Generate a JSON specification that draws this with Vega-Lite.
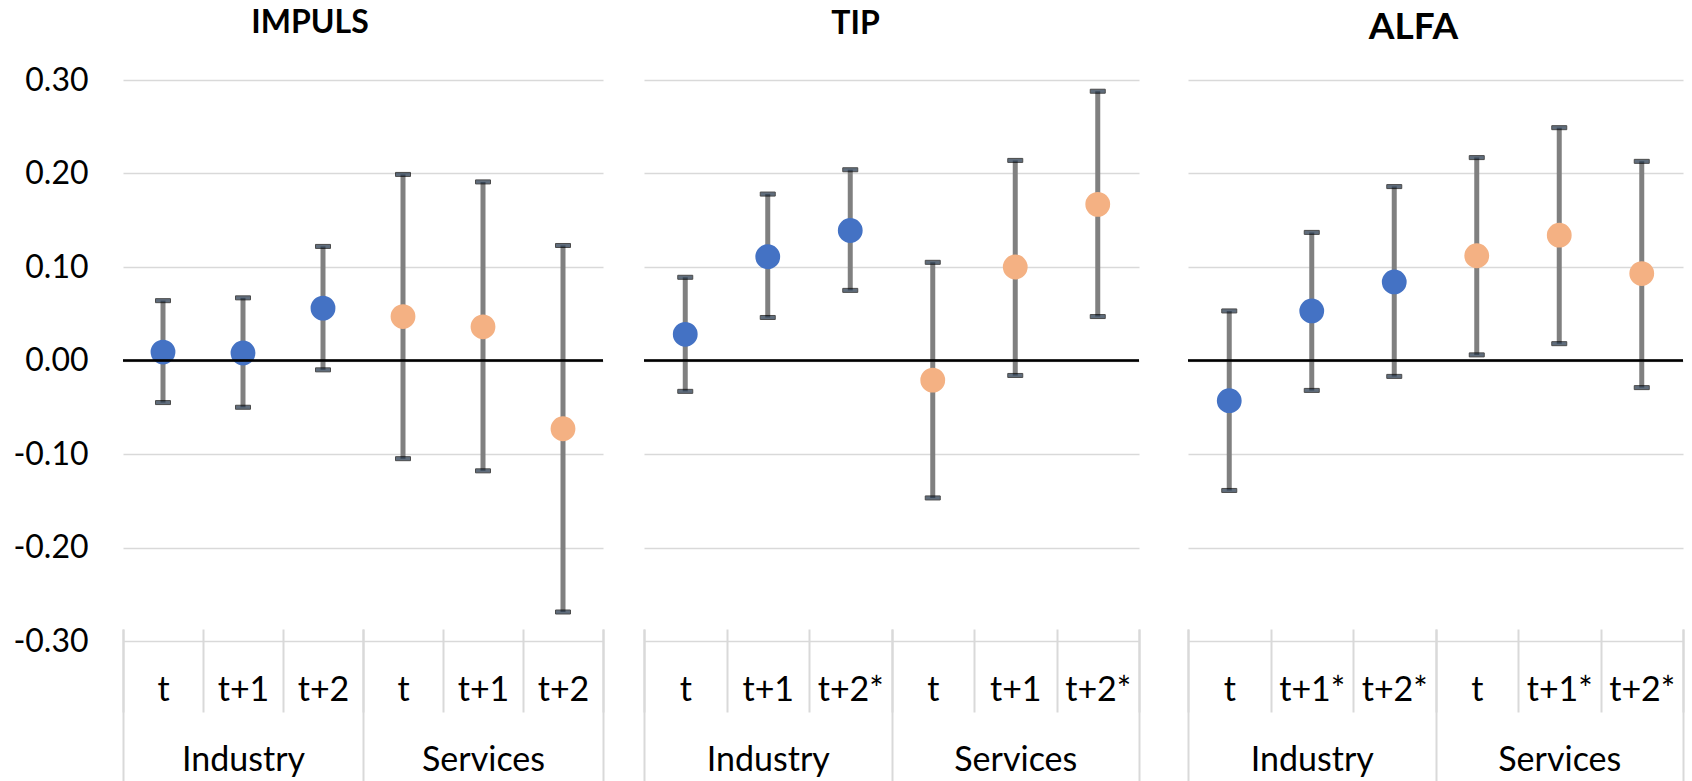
{
  "$schema": "https://vega.github.io/schema/vega-lite/v6.json",
  "background": "white",
  "padding": {"left": 12, "top": 7, "right": 5, "bottom": 0},
  "config": {"view": {"stroke": null}, "font": "Lato"},
  "data": {"values": [
    {"panel": "IMPULS", "group": "Industry", "key": "Industry|t", "est": 0.009, "lo": -0.045, "hi": 0.064},
    {"panel": "IMPULS", "group": "Industry", "key": "Industry|t+1", "est": 0.008, "lo": -0.050, "hi": 0.067},
    {"panel": "IMPULS", "group": "Industry", "key": "Industry|t+2", "est": 0.056, "lo": -0.010, "hi": 0.122},
    {"panel": "IMPULS", "group": "Services", "key": "Services|t", "est": 0.047, "lo": -0.105, "hi": 0.199},
    {"panel": "IMPULS", "group": "Services", "key": "Services|t+1", "est": 0.036, "lo": -0.118, "hi": 0.191},
    {"panel": "IMPULS", "group": "Services", "key": "Services|t+2", "est": -0.073, "lo": -0.269, "hi": 0.123},
    {"panel": "TIP", "group": "Industry", "key": "Industry|t", "est": 0.028, "lo": -0.033, "hi": 0.089},
    {"panel": "TIP", "group": "Industry", "key": "Industry|t+1", "est": 0.111, "lo": 0.046, "hi": 0.178},
    {"panel": "TIP", "group": "Industry", "key": "Industry|t+2*", "est": 0.139, "lo": 0.075, "hi": 0.204},
    {"panel": "TIP", "group": "Services", "key": "Services|t", "est": -0.021, "lo": -0.147, "hi": 0.105},
    {"panel": "TIP", "group": "Services", "key": "Services|t+1", "est": 0.100, "lo": -0.016, "hi": 0.214},
    {"panel": "TIP", "group": "Services", "key": "Services|t+2*", "est": 0.167, "lo": 0.047, "hi": 0.288},
    {"panel": "ALFA", "group": "Industry", "key": "Industry|t", "est": -0.043, "lo": -0.139, "hi": 0.053},
    {"panel": "ALFA", "group": "Industry", "key": "Industry|t+1*", "est": 0.053, "lo": -0.032, "hi": 0.137},
    {"panel": "ALFA", "group": "Industry", "key": "Industry|t+2*", "est": 0.084, "lo": -0.017, "hi": 0.186},
    {"panel": "ALFA", "group": "Services", "key": "Services|t", "est": 0.112, "lo": 0.006, "hi": 0.217},
    {"panel": "ALFA", "group": "Services", "key": "Services|t+1*", "est": 0.134, "lo": 0.018, "hi": 0.249},
    {"panel": "ALFA", "group": "Services", "key": "Services|t+2*", "est": 0.093, "lo": -0.029, "hi": 0.213}
  ]},
  "spacing": 41,
  "bounds": "flush",
  "hconcat": [
    {
      "width": 480, "height": 561,
      "title": {"text": "IMPULS", "font": "Lato", "fontSize": 32, "fontWeight": "bold", "color": "black", "anchor": "middle", "frame": "group", "dx": -53, "offset": -1, "baseline": "alphabetic"},
      "transform": [{"filter": "datum.panel === 'IMPULS'"}],
      "layer": [
        {
          "encoding": {
            "x": {"field": "key", "type": "nominal", "sort": null, "scale": {"paddingInner": 0, "paddingOuter": 0},
              "axis": {"orient": "bottom", "title": null, "domain": false, "grid": false, "offset": -12, "tickBand": "extent", "tickSize": 83, "tickColor": "#d9d9d9", "tickWidth": 2, "labelExpr": "split(datum.value, '|')[1]", "labelAngle": 0, "labelBaseline": "middle", "labelPadding": -22, "labelFont": "Lato", "labelFontSize": 34, "labelColor": "black"}}
          },
          "layer": [
            {"mark": {"type": "rule", "color": "#808080", "strokeWidth": 5},
             "encoding": {
               "y": {"field": "lo", "type": "quantitative", "scale": {"domain": [-0.3, 0.3], "nice": false, "zero": false},
                 "axis": {"orient": "left", "title": null, "values": [-0.3, -0.2, -0.1, 0, 0.1, 0.2, 0.3], "labelExpr": "(datum.value < -0.001 ? '-' : '') + format(abs(datum.value), '.2f')", "ticks": false, "domain": false, "grid": true, "gridColor": "#d9d9d9", "gridWidth": 1.5, "labelPadding": 35, "labelFont": "Lato", "labelFontSize": 32, "labelColor": "black"}},
               "y2": {"field": "hi"}}},
            {"mark": {"type": "tick", "orient": "horizontal", "fill": "#1d3046", "stroke": "black", "strokeWidth": 1, "thickness": 4, "size": 15},
             "encoding": {"y": {"field": "lo", "type": "quantitative"}}},
            {"mark": {"type": "tick", "orient": "horizontal", "fill": "#1d3046", "stroke": "black", "strokeWidth": 1, "thickness": 4, "size": 15},
             "encoding": {"y": {"field": "hi", "type": "quantitative"}}},
            {"mark": {"type": "circle", "size": 616, "opacity": 1},
             "encoding": {"y": {"field": "est", "type": "quantitative"},
               "color": {"field": "group", "type": "nominal", "scale": {"domain": ["Industry", "Services"], "range": ["#4472C4", "#F4B183"]}, "legend": null}}}
          ]
        },
        {"mark": {"type": "point", "opacity": 0},
         "encoding": {
           "x": {"field": "group", "type": "nominal", "sort": null, "scale": {"paddingInner": 0, "paddingOuter": 0},
             "axis": {"orient": "bottom", "title": null, "domain": false, "grid": false, "offset": -12, "tickBand": "extent", "tickSize": 152, "tickColor": "#d9d9d9", "tickWidth": 2, "labelAngle": 0, "labelBaseline": "middle", "labelPadding": -21, "labelFont": "Lato", "labelFontSize": 34, "labelColor": "black"}},
           "y": {"datum": 0}}},
        {"mark": {"type": "rule", "color": "black", "strokeWidth": 1.5}, "encoding": {"y": {"datum": 0}}}
      ],
      "resolve": {"scale": {"x": "independent"}, "axis": {"x": "independent"}}
    },
    {
      "spacing": 49,
      "bounds": "flush",
      "hconcat": [
        {
          "width": 495, "height": 561,
          "title": {"text": "TIP", "font": "Lato", "fontSize": 32, "fontWeight": "bold", "color": "black", "anchor": "middle", "frame": "group", "dx": -36, "offset": 14, "baseline": "alphabetic"},
          "transform": [{"filter": "datum.panel === 'TIP'"}],
          "layer": [
            {
              "encoding": {
                "x": {"field": "key", "type": "nominal", "sort": null, "scale": {"paddingInner": 0, "paddingOuter": 0},
                  "axis": {"orient": "bottom", "title": null, "domain": false, "grid": false, "offset": -12, "tickBand": "extent", "tickSize": 83, "tickColor": "#d9d9d9", "tickWidth": 2, "labelExpr": "split(datum.value, '|')[1]", "labelAngle": 0, "labelBaseline": "middle", "labelPadding": -22, "labelFont": "Lato", "labelFontSize": 34, "labelColor": "black"}}
              },
              "layer": [
                {"mark": {"type": "rule", "color": "#808080", "strokeWidth": 5},
                 "encoding": {
                   "y": {"field": "lo", "type": "quantitative", "scale": {"domain": [-0.3, 0.3], "nice": false, "zero": false},
                     "axis": {"orient": "left", "title": null, "values": [-0.3, -0.2, -0.1, 0, 0.1, 0.2, 0.3], "labels": false, "ticks": false, "domain": false, "grid": true, "gridColor": "#d9d9d9", "gridWidth": 1.5}},
                   "y2": {"field": "hi"}}},
                {"mark": {"type": "tick", "orient": "horizontal", "fill": "#1d3046", "stroke": "black", "strokeWidth": 1, "thickness": 4, "size": 15},
                 "encoding": {"y": {"field": "lo", "type": "quantitative"}}},
                {"mark": {"type": "tick", "orient": "horizontal", "fill": "#1d3046", "stroke": "black", "strokeWidth": 1, "thickness": 4, "size": 15},
                 "encoding": {"y": {"field": "hi", "type": "quantitative"}}},
                {"mark": {"type": "circle", "size": 616, "opacity": 1},
                 "encoding": {"y": {"field": "est", "type": "quantitative"},
                   "color": {"field": "group", "type": "nominal", "scale": {"domain": ["Industry", "Services"], "range": ["#4472C4", "#F4B183"]}, "legend": null}}}
              ]
            },
            {"mark": {"type": "point", "opacity": 0},
             "encoding": {
               "x": {"field": "group", "type": "nominal", "sort": null, "scale": {"paddingInner": 0, "paddingOuter": 0},
                 "axis": {"orient": "bottom", "title": null, "domain": false, "grid": false, "offset": -12, "tickBand": "extent", "tickSize": 152, "tickColor": "#d9d9d9", "tickWidth": 2, "labelAngle": 0, "labelBaseline": "middle", "labelPadding": -21, "labelFont": "Lato", "labelFontSize": 34, "labelColor": "black"}},
               "y": {"datum": 0}}},
            {"mark": {"type": "rule", "color": "black", "strokeWidth": 1.5}, "encoding": {"y": {"datum": 0}}}
          ],
          "resolve": {"scale": {"x": "independent"}, "axis": {"x": "independent"}}
        },
        {
          "width": 495, "height": 561,
          "title": {"text": "ALFA", "font": "Lato", "fontSize": 37, "fontWeight": "bold", "color": "black", "anchor": "middle", "frame": "group", "dx": -22, "offset": 4, "baseline": "alphabetic"},
          "transform": [{"filter": "datum.panel === 'ALFA'"}],
          "layer": [
            {
              "encoding": {
                "x": {"field": "key", "type": "nominal", "sort": null, "scale": {"paddingInner": 0, "paddingOuter": 0},
                  "axis": {"orient": "bottom", "title": null, "domain": false, "grid": false, "offset": -12, "tickBand": "extent", "tickSize": 83, "tickColor": "#d9d9d9", "tickWidth": 2, "labelExpr": "split(datum.value, '|')[1]", "labelAngle": 0, "labelBaseline": "middle", "labelPadding": -22, "labelFont": "Lato", "labelFontSize": 34, "labelColor": "black"}}
              },
              "layer": [
                {"mark": {"type": "rule", "color": "#808080", "strokeWidth": 5},
                 "encoding": {
                   "y": {"field": "lo", "type": "quantitative", "scale": {"domain": [-0.3, 0.3], "nice": false, "zero": false},
                     "axis": {"orient": "left", "title": null, "values": [-0.3, -0.2, -0.1, 0, 0.1, 0.2, 0.3], "labels": false, "ticks": false, "domain": false, "grid": true, "gridColor": "#d9d9d9", "gridWidth": 1.5}},
                   "y2": {"field": "hi"}}},
                {"mark": {"type": "tick", "orient": "horizontal", "fill": "#1d3046", "stroke": "black", "strokeWidth": 1, "thickness": 4, "size": 15},
                 "encoding": {"y": {"field": "lo", "type": "quantitative"}}},
                {"mark": {"type": "tick", "orient": "horizontal", "fill": "#1d3046", "stroke": "black", "strokeWidth": 1, "thickness": 4, "size": 15},
                 "encoding": {"y": {"field": "hi", "type": "quantitative"}}},
                {"mark": {"type": "circle", "size": 616, "opacity": 1},
                 "encoding": {"y": {"field": "est", "type": "quantitative"},
                   "color": {"field": "group", "type": "nominal", "scale": {"domain": ["Industry", "Services"], "range": ["#4472C4", "#F4B183"]}, "legend": null}}}
              ]
            },
            {"mark": {"type": "point", "opacity": 0},
             "encoding": {
               "x": {"field": "group", "type": "nominal", "sort": null, "scale": {"paddingInner": 0, "paddingOuter": 0},
                 "axis": {"orient": "bottom", "title": null, "domain": false, "grid": false, "offset": -12, "tickBand": "extent", "tickSize": 152, "tickColor": "#d9d9d9", "tickWidth": 2, "labelAngle": 0, "labelBaseline": "middle", "labelPadding": -21, "labelFont": "Lato", "labelFontSize": 34, "labelColor": "black"}},
               "y": {"datum": 0}}},
            {"mark": {"type": "rule", "color": "black", "strokeWidth": 1.5}, "encoding": {"y": {"datum": 0}}}
          ],
          "resolve": {"scale": {"x": "independent"}, "axis": {"x": "independent"}}
        }
      ]
    }
  ]
}
